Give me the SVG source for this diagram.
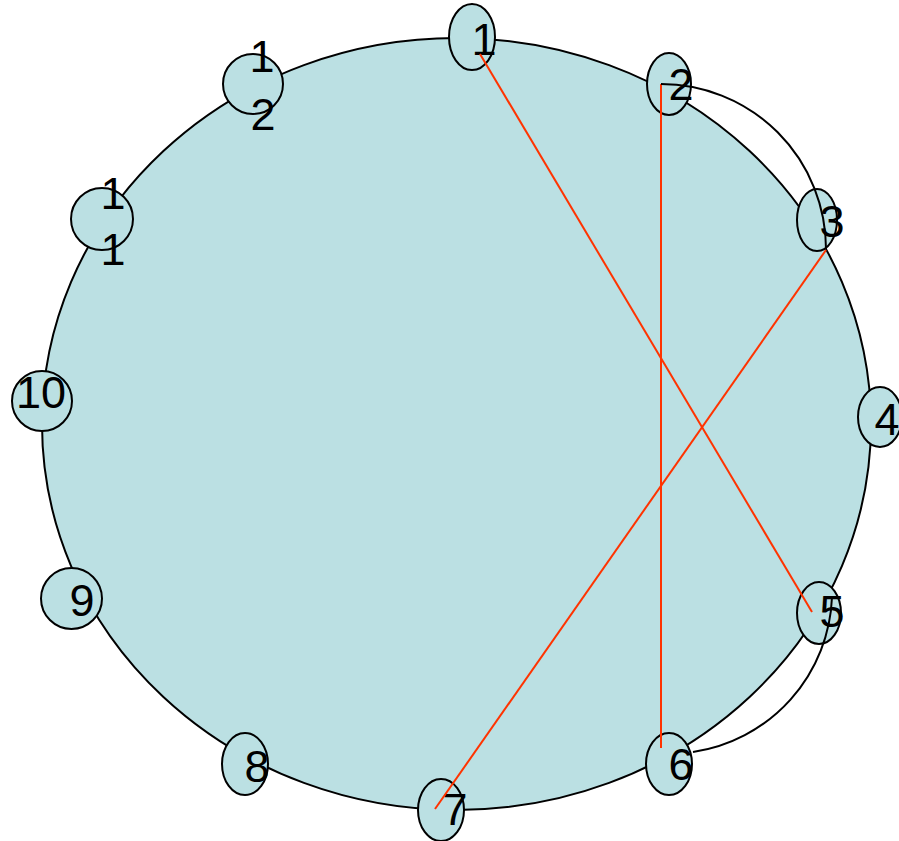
<svg xmlns="http://www.w3.org/2000/svg" width="899" height="841" viewBox="0 0 899 841">
<style>
.ring{fill:#BBE0E3;stroke:#000;stroke-width:2}
.node ellipse{fill:#BBE0E3;stroke:#000;stroke-width:2}
.node text{font-family:"Liberation Sans",Arial,sans-serif;font-size:45px;fill:#000;text-anchor:middle}
.red{stroke:#FF3300;stroke-width:2;fill:none}
.blk{stroke:#000;stroke-width:2;fill:none}
</style>
<rect width="899" height="841" fill="#fff"/>
<ellipse class="ring" cx="456.5" cy="424" rx="414.5" ry="386"/>
<g id="n1" class="node"><ellipse cx="472" cy="37" rx="23" ry="33"/><text x="484" y="55">1</text></g>
<g id="n2" class="node"><ellipse cx="669" cy="84" rx="22" ry="31"/><text x="681" y="100">2</text></g>
<g id="n3" class="node"><ellipse cx="817" cy="220" rx="20" ry="31"/><text x="832" y="237">3</text></g>
<g id="n4" class="node"><ellipse cx="880" cy="417" rx="22" ry="30"/><text x="887" y="435">4</text></g>
<g id="n5" class="node"><ellipse cx="819" cy="613" rx="22" ry="31"/><text x="832" y="627">5</text></g>
<g id="n6" class="node"><ellipse cx="669" cy="764" rx="23" ry="31"/><text x="681" y="780">6</text></g>
<g id="n7" class="node"><ellipse cx="441" cy="810" rx="23" ry="31"/><text x="455" y="825">7</text></g>
<g id="n8" class="node"><ellipse cx="245" cy="764" rx="23" ry="31"/><text x="257" y="782">8</text></g>
<g id="n9" class="node"><ellipse cx="71.5" cy="598.5" rx="30.5" ry="30.5"/><text x="82" y="616">9</text></g>
<g id="n10" class="node"><ellipse cx="42" cy="401" rx="30" ry="30"/><text x="41" y="408">10</text></g>
<g id="n11" class="node"><ellipse cx="102" cy="219" rx="31" ry="31"/><text x="113" y="209">1<tspan x="113" y="265">1</tspan></text></g>
<g id="n12" class="node"><ellipse cx="253" cy="84" rx="30" ry="30"/><text x="262" y="72">1<tspan x="263" y="130">2</tspan></text></g>
<g id="connectors">
<line class="red" x1="480" y1="54" x2="812" y2="612"/>
<line class="red" x1="661" y1="84" x2="661" y2="748"/>
<line class="red" x1="826" y1="250" x2="435" y2="809"/>
<path class="blk" d="M661,84 A165,165 0 0 1 826,249"/>
<path class="blk" d="M832,597 A163,163 0 0 1 693,752"/>
</g>
</svg>
